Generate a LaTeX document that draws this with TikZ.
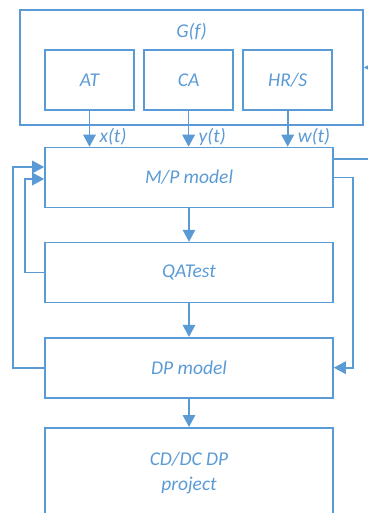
\documentclass[tikz,border=0pt]{standalone}
\usepackage{fontspec}
\setmainfont{Carlito}
\usetikzlibrary{positioning,arrows.meta}
\definecolor{boxblue}{RGB}{91,155,213}

\begin{document}
\begin{tikzpicture}[x=1pt, y=-1pt, line width=1.6pt, color=boxblue,
    every node/.style={text=boxblue, font=\itshape\fontsize{19.5}{25}\selectfont},
    main node/.style={draw=boxblue, minimum width=288pt, minimum height=60pt, inner sep=0pt, align=center},
    sub node/.style={main node, minimum width=89pt},
    flow/.style={draw=boxblue, -{Triangle[length=12pt,width=12.5pt]}}]

  \useasboundingbox (0,0) rectangle (367,513);

  \node[main node, minimum width=343pt, minimum height=115pt] (gf) at (191.5,67.5) {};
  \node (gflabel) at (191.5,32) {G(f)};
  \node[sub node] (at) at (89.5,80) {AT};
  \node[sub node] (ca) [right=8.5pt of at] {CA};
  \node[sub node] (hrs) [right=8.5pt of ca] {HR/S};

  \node[main node] (mp) at (189,177.5) {M/P model};
  \node[main node] (qa) [below=33.5pt of mp] {QATest};
  \node[main node] (dp) [below=33.5pt of qa] {DP model};
  \node[main node, minimum height=90pt] (cd) [below=28.5pt of dp] {CD/DC DP\\project};

  % inputs
  \draw[flow] (at.south) -- node[right=6pt, pos=0.73] {x(t)} (at.south |- mp.north);
  \draw[flow] (ca.south) -- node[right=6pt, pos=0.73] {y(t)} (ca.south |- mp.north);
  \draw[flow] (hrs.south) -- node[right=6pt, pos=0.73] {w(t)} (hrs.south |- mp.north);

  \draw[flow] (mp) -- (qa);
  \draw[flow] (qa) -- (dp);
  \draw[flow] (dp) -- (cd);

  % feedback loops
  \draw[flow] (dp.west) -- ++(-31,0) |- ([yshift=10.5pt]mp.west);
  \draw[flow] (qa.west) -- ++(-19,0) |- ([yshift=-1.5pt]mp.west);
  \draw[flow] (mp.east) -- ++(19,0) |- (dp.east);
  \draw[flow] ([yshift=18.5pt]mp.east) -- ++(45,0) |- (gf.east);
\end{tikzpicture}
\end{document}
